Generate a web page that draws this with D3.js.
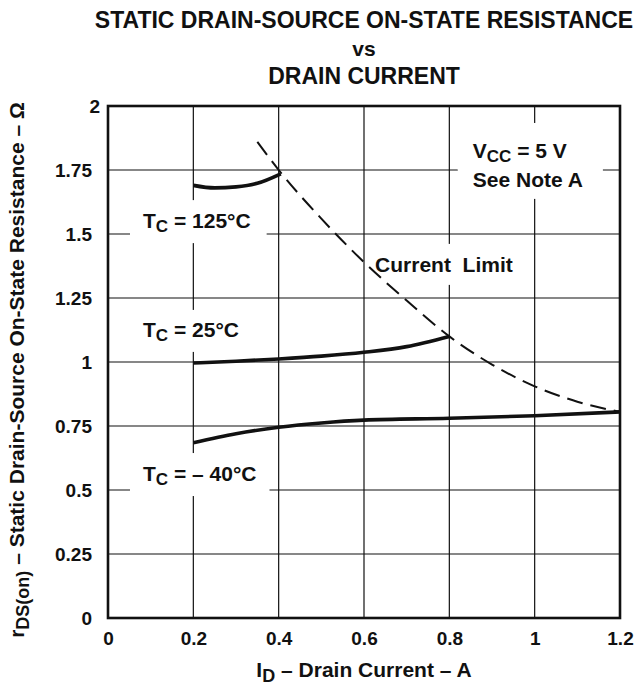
<!DOCTYPE html>
<html><head><meta charset="utf-8">
<script src="https://cdn.jsdelivr.net/npm/d3@7"></script>
<style>
html,body{margin:0;padding:0;background:#fff;}
svg{display:block;font-family:"Liberation Sans",Arial,sans-serif;font-weight:bold;}
</style></head>
<body>
<svg id="chart" width="637" height="696"></svg>
<script>
// ---- data ----
const xTicks = [0, 0.2, 0.4, 0.6, 0.8, 1, 1.2];
const yTicks = [0, 0.25, 0.5, 0.75, 1, 1.25, 1.5, 1.75, 2];
const xTickLabels = ["0", "0.2", "0.4", "0.6", "0.8", "1", "1.2"];
const yTickLabels = ["0", "0.25", "0.5", "0.75", "1", "1.25", "1.5", "1.75", "2"];

const tc125I = [0.2, 0.25, 0.3, 0.35, 0.405];
const tc125R = [1.69, 1.68, 1.684, 1.698, 1.735];
const tc25I = [0.2, 0.3, 0.4, 0.5, 0.6, 0.7, 0.8];
const tc25R = [0.996, 1.003, 1.012, 1.023, 1.038, 1.06, 1.1];
const tcm40I = [0.2, 0.3, 0.4, 0.5, 0.6, 0.8, 1.0, 1.2];
const tcm40R = [0.685, 0.72, 0.745, 0.762, 0.773, 0.78, 0.79, 0.805];
const limitI = [0.35, 0.4, 0.5, 0.6, 0.7, 0.8, 0.9, 1.0, 1.1, 1.2];
const limitR = [1.86, 1.75, 1.56, 1.39, 1.24, 1.1, 0.99, 0.905, 0.845, 0.805];

const titleLines = ["STATIC DRAIN-SOURCE ON-STATE RESISTANCE", "vs", "DRAIN CURRENT"];

// ---- layout ----
const svg = d3.select("#chart");
const L = 108, R = 620, T = 106, B = 618;
const x = d3.scaleLinear().domain([0, 1.2]).range([L, R]);
const y = d3.scaleLinear().domain([0, 2]).range([B, T]);

// title
const tg = svg.append("g").attr("text-anchor", "middle").attr("fill", "#111");
tg.append("text").attr("x", (L + R) / 2).attr("y", 28).attr("font-size", 23).text(titleLines[0]);
tg.append("text").attr("x", (L + R) / 2).attr("y", 56).attr("font-size", 21).text(titleLines[1]);
tg.append("text").attr("x", (L + R) / 2).attr("y", 84).attr("font-size", 23).text(titleLines[2]);

// grid
const grid = svg.append("g").attr("stroke", "#111").attr("stroke-width", 1.2);
grid.selectAll("line.v").data(xTicks.slice(1, -1)).join("line")
  .attr("x1", d => x(d)).attr("x2", d => x(d)).attr("y1", T).attr("y2", B);
grid.selectAll("line.h").data(yTicks.slice(1, -1)).join("line")
  .attr("y1", d => y(d)).attr("y2", d => y(d)).attr("x1", L).attr("x2", R);

// axes (labels only, via d3 axes)
const xAxis = d3.axisBottom(x).tickValues(xTicks).tickFormat((d, i) => xTickLabels[i]).tickSize(0).tickPadding(14);
const yAxis = d3.axisLeft(y).tickValues(yTicks).tickFormat((d, i) => yTickLabels[i]).tickSize(0).tickPadding(16);
const gx = svg.append("g").attr("transform", `translate(0,${B})`).call(xAxis);
const gy = svg.append("g").attr("transform", `translate(${L},0)`).call(yAxis);
[gx, gy].forEach(g => {
  g.select(".domain").remove();
  g.selectAll("text").attr("font-size", 19).attr("font-family", "Liberation Sans, Arial, sans-serif")
    .attr("font-weight", "bold").attr("fill", "#111");
});
// the top "2" label sits a little further right in the reference
gy.selectAll(".tick").filter(d => d === 2).select("text").attr("dx", 8);

// annotations layer (knockouts then text)
const knock = svg.append("g");
const curves = svg.append("g");
const ann = svg.append("g").attr("fill", "#111").attr("font-size", 21);

function addLabel(parts, xv, yv, pad) {
  const t = ann.append("text").attr("x", x(xv)).attr("y", y(yv)).style("white-space", "pre");
  parts.forEach(p => {
    const s = t.append("tspan").text(p.t);
    if (p.sub) s.attr("font-size", 17).attr("dy", 4);
    if (p.up) s.attr("dy", -4);
  });
  const bb = t.node().getBBox();
  knock.append("rect").attr("x", bb.x - pad[3]).attr("y", bb.y - pad[0])
    .attr("width", bb.width + pad[1] + pad[3]).attr("height", bb.height + pad[0] + pad[2]).attr("fill", "#fff");
}

addLabel([{t: "T"}, {t: "C", sub: true}, {t: " = 125°C", up: true}], 0.082, 1.523, [9, 16, 7, 13]);
addLabel([{t: "T"}, {t: "C", sub: true}, {t: " = 25°C", up: true}], 0.082, 1.098, [8, 13, 7, 13]);
addLabel([{t: "T"}, {t: "C", sub: true}, {t: " = – 40°C", up: true}], 0.082, 0.535, [9, 13, 7, 13]);
addLabel([{t: "Current  Limit"}], 0.626, 1.352, [9, 10, 9, 8]);
addLabel([{t: "V"}, {t: "CC", sub: true}, {t: " = 5 V", up: true}], 0.855, 1.797, [16, 20, 4, 15]);
addLabel([{t: "See Note A"}], 0.855, 1.684, [4, 20, 8, 15]);

// curves
const line = d3.line().x(d => x(d[0])).y(d => y(d[1])).curve(d3.curveMonotoneX);
const solid = [[tc125I, tc125R], [tc25I, tc25R], [tcm40I, tcm40R]];
solid.forEach(([I, Rv]) => {
  curves.append("path").datum(I.map((v, i) => [v, Rv[i]])).attr("d", line)
    .attr("fill", "none").attr("stroke", "#111").attr("stroke-width", 3.6).attr("stroke-linecap", "butt");
});
curves.append("path").datum(limitI.map((v, i) => [v, limitR[i]])).attr("d", line)
  .attr("fill", "none").attr("stroke", "#111").attr("stroke-width", 2).attr("stroke-dasharray", "16,8");

// frame
svg.append("rect").attr("x", L).attr("y", T).attr("width", R - L).attr("height", B - T)
  .attr("fill", "none").attr("stroke", "#111").attr("stroke-width", 2.6);

// axis titles
const xt = svg.append("text").attr("x", (L + R) / 2).attr("y", 677).attr("text-anchor", "middle")
  .attr("font-size", 21).attr("fill", "#111");
xt.append("tspan").text("I");
xt.append("tspan").text("D").attr("font-size", 18).attr("dy", 5);
xt.append("tspan").text(" – Drain Current – A").attr("dy", -5);

const yt = svg.append("text").attr("transform", `translate(24,${(T + B) / 2 + 8}) rotate(-90)`)
  .attr("text-anchor", "middle").attr("font-size", 21).attr("fill", "#111");
yt.append("tspan").text("r");
yt.append("tspan").text("DS(on)").attr("font-size", 18).attr("dy", 5);
yt.append("tspan").text(" – Static Drain-Source On-State Resistance – Ω").attr("dy", -5);
</script>
</body></html>
